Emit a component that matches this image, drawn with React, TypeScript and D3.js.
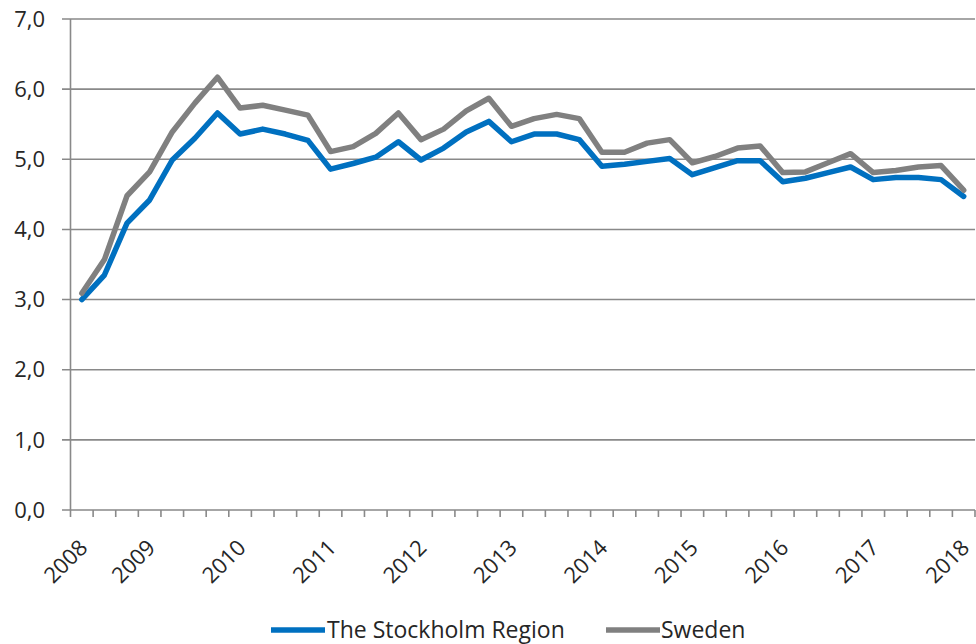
import React from "react";
import * as d3 from "d3";

const stockholm = [3.00, 3.35, 4.09, 4.42, 4.99, 5.30, 5.66, 5.36, 5.43, 5.36, 5.27, 4.86, 4.94, 5.03, 5.25, 4.99, 5.16, 5.39, 5.54, 5.25, 5.36, 5.36, 5.28, 4.90, 4.93, 4.97, 5.01, 4.78, 4.88, 4.98, 4.98, 4.68, 4.73, 4.81, 4.89, 4.71, 4.74, 4.74, 4.71, 4.47];
const sweden = [3.09, 3.57, 4.48, 4.82, 5.39, 5.80, 6.17, 5.73, 5.77, 5.70, 5.63, 5.11, 5.18, 5.37, 5.66, 5.28, 5.43, 5.69, 5.87, 5.47, 5.58, 5.64, 5.58, 5.10, 5.10, 5.23, 5.28, 4.95, 5.04, 5.16, 5.19, 4.81, 4.82, 4.95, 5.08, 4.81, 4.84, 4.89, 4.91, 4.56];
const yearLabels = ["2008", "2009", "2010", "2011", "2012", "2013", "2014", "2015", "2016", "2017", "2018"];
const yearIndex = [0, 3, 7, 11, 15, 19, 23, 27, 31, 35, 39];
const yTicks = [0, 1, 2, 3, 4, 5, 6, 7];
const seriesNames = ["The Stockholm Region", "Sweden"];

const W = 976, H = 644;
const FONT = "'Open Sans', sans-serif";

export default function App() {
  const idx = d3.range(stockholm.length);
  const x = d3.scaleBand<number>().domain(idx).range([70.5, 975]).paddingInner(0).paddingOuter(0);
  const y = d3.scaleLinear().domain([0, 7]).range([510, 19]);
  const cx = (i: number) => (x(i) as number) + x.bandwidth() / 2;
  const line = d3.line<number>().x((_, i) => cx(i)).y((v) => y(v));
  const gridColor = "#898989";
  const textColor = "#262626";
  const boundaries = d3.range(stockholm.length + 1).map((i) => 70.5 + i * x.step());

  return (
    <svg width={W} height={H} style={{ position: "absolute", left: 0, top: 0, background: "#fff" }} fontFamily={FONT}>
      <rect x={0} y={0} width={W} height={H} fill="#fff" />
      {yTicks.map((t) => (
        <g key={t}>
          <line x1={62} x2={975} y1={y(t)} y2={y(t)} stroke={gridColor} strokeWidth={1.6} />
          <text x={45} y={y(t)} dy="0.35em" textAnchor="end" fontSize={22} fill={textColor}>
            {d3.format(".1f")(t).replace(".", ",")}
          </text>
        </g>
      ))}
      <line x1={70.5} x2={70.5} y1={19} y2={510} stroke={gridColor} strokeWidth={1.6} />
      {boundaries.map((b, i) => (
        <line key={i} x1={b} x2={b} y1={510} y2={517} stroke={gridColor} strokeWidth={1.6} />
      ))}
      {yearIndex.map((ci, k) => (
        <text key={k} transform={`translate(${cx(ci) + 7},${549}) rotate(-45)`} textAnchor="end" fontSize={22} fill={textColor}>
          {yearLabels[k]}
        </text>
      ))}
      <path d={line(stockholm) || ""} fill="none" stroke="#0070C0" strokeWidth={5.5} strokeLinejoin="round" strokeLinecap="round" />
      <path d={line(sweden) || ""} fill="none" stroke="#808080" strokeWidth={5.5} strokeLinejoin="round" strokeLinecap="round" />
      <g>
        <line x1={271} x2={325} y1={630} y2={630} stroke="#0070C0" strokeWidth={5.5} />
        <text x={327} y={638} fontSize={23} fill={textColor}>{seriesNames[0]}</text>
        <line x1={606} x2={660} y1={630} y2={630} stroke="#808080" strokeWidth={5.5} />
        <text x={661} y={638} fontSize={23} fill={textColor}>{seriesNames[1]}</text>
      </g>
    </svg>
  );
}
